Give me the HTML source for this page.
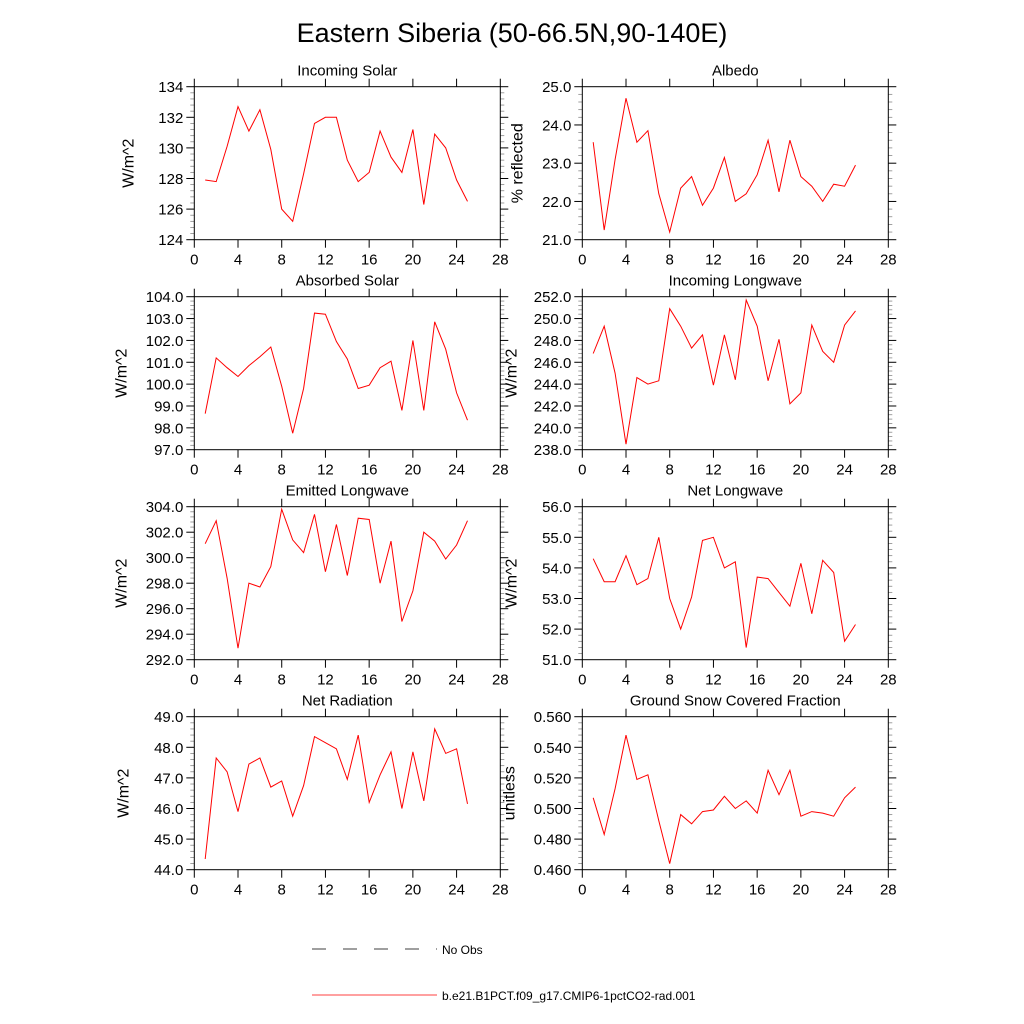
<!DOCTYPE html>
<html><head><meta charset="utf-8"><style>
body{margin:0;background:#fff}
svg{display:block;font-family:"Liberation Sans",sans-serif}
</style></head><body>
<svg id="c" width="1024" height="1024" viewBox="0 0 1024 1024">
<text x="512" y="42" text-anchor="middle" font-size="27">Eastern Siberia (50-66.5N,90-140E)</text>
<line x1="312" y1="949" x2="437" y2="949" stroke="#000" stroke-width="0.8" stroke-dasharray="14,17"/>
<text x="442" y="954" font-size="12">No Obs</text>
<line x1="312" y1="995" x2="437" y2="995" stroke="#f00" stroke-width="0.8"/>
<text x="442" y="1000" font-size="12">b.e21.B1PCT.f09_g17.CMIP6-1pctCO2-rad.001</text>
</svg>
<script>
const years = [1,2,3,4,5,6,7,8,9,10,11,12,13,14,15,16,17,18,19,20,21,22,23,24,25];
const xTicks = [0,4,8,12,16,20,24,28];
const incomingSolar = [127.9,127.8,130.1,132.7,131.1,132.5,129.9,126.0,125.2,128.3,131.6,132.0,132.0,129.2,127.8,128.4,131.1,129.4,128.4,131.2,126.3,130.9,130.0,127.9,126.5];
const albedo = [23.55,21.25,23.1,24.7,23.55,23.85,22.2,21.2,22.35,22.65,21.9,22.35,23.15,22.0,22.2,22.7,23.6,22.25,23.6,22.65,22.4,22.0,22.45,22.4,22.95];
const absorbedSolar = [98.65,101.2,100.75,100.35,100.85,101.25,101.7,99.9,97.75,99.8,103.25,103.2,101.95,101.15,99.8,99.95,100.75,101.05,98.8,102.0,98.8,102.85,101.6,99.6,98.35];
const incomingLW = [246.8,249.3,245.0,238.5,244.6,244.0,244.3,250.9,249.3,247.3,248.5,243.9,248.5,244.4,251.7,249.3,244.3,248.1,242.2,243.2,249.4,247.0,246.0,249.4,250.7];
const emittedLW = [301.1,302.9,298.4,292.9,298.0,297.7,299.3,303.8,301.4,300.4,303.4,298.9,302.6,298.6,303.1,303.0,298.0,301.3,295.0,297.4,302.0,301.3,299.9,301.0,302.9];
const netLW = [54.3,53.55,53.55,54.4,53.45,53.65,55.0,53.0,52.0,53.05,54.9,55.0,54.0,54.2,51.4,53.7,53.65,53.2,52.75,54.15,52.5,54.25,53.85,51.6,52.15];
const netRad = [44.35,47.65,47.2,45.9,47.45,47.65,46.7,46.9,45.75,46.75,48.35,48.15,47.95,46.95,48.4,46.2,47.1,47.85,46.0,47.85,46.25,48.6,47.8,47.95,46.15];
const snowFrac = [0.507,0.483,0.513,0.548,0.519,0.522,0.492,0.464,0.496,0.490,0.498,0.499,0.508,0.500,0.505,0.497,0.525,0.509,0.525,0.495,0.498,0.497,0.495,0.507,0.514];
const ticksSolar = [124,126,128,130,132,134];
const ticksAlbedo = [21,22,23,24,25];
const ticksAbs = [97,98,99,100,101,102,103,104];
const ticksILW = [238,240,242,244,246,248,250,252];
const ticksELW = [292,294,296,298,300,302,304];
const ticksNLW = [51,52,53,54,55,56];
const ticksNR = [44,45,46,47,48,49];
const ticksSnow = [0.46,0.48,0.50,0.52,0.54,0.56];

const NS='http://www.w3.org/2000/svg';
const svg=document.getElementById('c');
function mk(tag,attrs,parent){const e=document.createElementNS(NS,tag);for(const k in attrs)e.setAttribute(k,attrs[k]);(parent||svg).appendChild(e);return e;}

function panel(id,title,ytitle,data,yt,dec,left,top,yoff){
  const W=306,H=153;
  const g=mk('g',{});
  
  
  const ymin=yt[0],ymax=yt[yt.length-1];
  const xs=v=>left+v/28*W;
  const ys=v=>top+H-(v-ymin)/(ymax-ymin)*H;
  const step=yt[1]-yt[0];
  for(let i=0;i<yt.length-1;i++){for(let k=1;k<5;k++){const y=ys(yt[i]+step*k/5);
    mk('line',{x1:left-4,x2:left,y1:y,y2:y,stroke:'#888','stroke-width':0.8},g);
    mk('line',{x1:left+W,x2:left+W+4,y1:y,y2:y,stroke:'#888','stroke-width':0.8},g);}}
  yt.forEach(v=>{const y=ys(v);
    mk('line',{x1:left-8,x2:left,y1:y,y2:y,stroke:'#000','stroke-width':1},g);
    mk('line',{x1:left+W,x2:left+W+8,y1:y,y2:y,stroke:'#000','stroke-width':1},g);
    const t=mk('text',{x:left-11,y:y+5.5,'text-anchor':'end','font-size':15},g);
    t.textContent=v.toFixed(dec);
    
    });
  xTicks.forEach(v=>{const x=xs(v);
    mk('line',{x1:x,x2:x,y1:top+H,y2:top+H+8,stroke:'#000','stroke-width':1},g);
    mk('line',{x1:x,x2:x,y1:top-8,y2:top,stroke:'#000','stroke-width':1},g);
    const t=mk('text',{x:x,y:top+H+25,'text-anchor':'middle','font-size':15},g);
    t.textContent=v;
    
    });
  const r=mk('rect',{x:left,y:top,width:W,height:H,fill:'none',stroke:'#000','stroke-width':1},g);
  
  
  const pts=data.map((v,i)=>xs(years[i]).toFixed(1)+','+ys(v).toFixed(1)).join(' ');
  const pl=mk('polyline',{points:pts,fill:'none',stroke:'#f00','stroke-width':1},g);
  
  
  const tt=mk('text',{x:left+W/2,y:top-11,'text-anchor':'middle','font-size':15},g);
  tt.textContent=title;
  
  
  const yx=left-yoff;
  const yl=mk('text',{x:yx,y:top+H/2,'text-anchor':'middle','font-size':16,transform:'rotate(-90 '+yx+' '+(top+H/2)+')'},g);
  yl.textContent=ytitle;
  
  
}
const L=194.3,R=582.3;
panel('incoming-solar','Incoming Solar','W/m^2',incomingSolar,ticksSolar,0,L,86.7,61);
panel('albedo','Albedo','% reflected',albedo,ticksAlbedo,1,R,86.7,60);
panel('absorbed-solar','Absorbed Solar','W/m^2',absorbedSolar,ticksAbs,1,L,296.7,68);
panel('incoming-longwave','Incoming Longwave','W/m^2',incomingLW,ticksILW,1,R,296.7,66);
panel('emitted-longwave','Emitted Longwave','W/m^2',emittedLW,ticksELW,1,L,506.7,68);
panel('net-longwave','Net Longwave','W/m^2',netLW,ticksNLW,1,R,506.7,66);
panel('net-radiation','Net Radiation','W/m^2',netRad,ticksNR,1,L,716.7,66);
panel('snow-fraction','Ground Snow Covered Fraction','unitless',snowFrac,ticksSnow,3,R,716.7,68);
</script>
</body></html>
